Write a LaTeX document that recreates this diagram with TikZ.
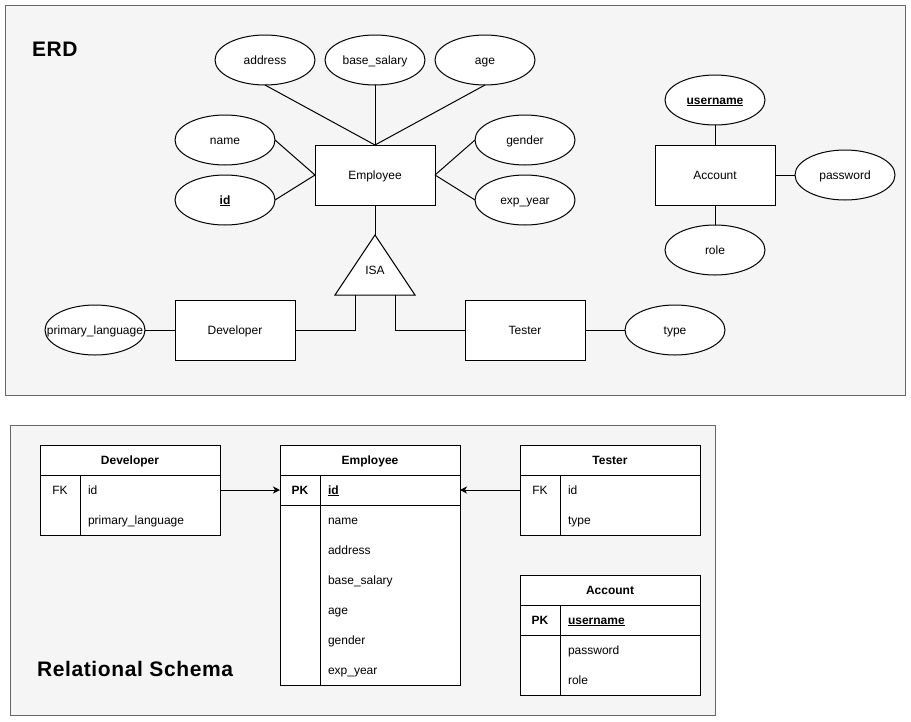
\documentclass[tikz,border=0pt]{standalone}
\usepackage{fontspec}
\setmainfont{Liberation Sans}
\usetikzlibrary{shapes.geometric,arrows.meta}
\definecolor{framefill}{HTML}{F5F5F5}
\definecolor{frameline}{HTML}{666666}
\newcommand\fixw[1]{\makebox[0pt][c]{#1}}
\begin{document}
\begin{tikzpicture}[x=1pt,y=-1pt,line width=1pt,
  every node/.style={font=\fontsize{12}{14}\selectfont, inner sep=0pt, outer sep=0pt, text height=10pt, text depth=2pt},
  ent/.style={draw, fill=white, minimum width=120pt, minimum height=60pt},
  attr/.style={draw, ellipse, fill=white, minimum width=100pt, minimum height=50pt},
  frame/.style={draw=frameline, fill=framefill},
  title/.style={font=\fontsize{21}{25}\selectfont\bfseries\addfontfeature{LetterSpace=3}, anchor=west, text height=18pt, text depth=4pt},
  thead/.style={draw, fill=white, minimum width=180pt, minimum height=30pt, font=\fontsize{12}{14}\selectfont\bfseries},
  tbody/.style={draw, fill=white, minimum width=180pt},
  trow/.style={minimum width=180pt, minimum height=30pt},
  fld/.style={anchor=west},
  fkarrow/.style={-{Stealth[length=7pt,width=7pt,inset=2pt]}}
]
\useasboundingbox (0,0) rectangle (911,721);
% ---------- ERD ----------
\draw[frame] (5,5) rectangle (905,395);
\node[title] (erdtitle) at (32,49) {ERD};

\node[ent] (emp) at (375,175) {Employee};
\node[attr] (address) at (265,60) {\fixw{address}};
\node[attr] (salary) at (375,60) {\fixw{base\_salary}};
\node[attr] (age) at (485,60) {\fixw{age}};
\node[attr] (name) at (225,140) {\fixw{name}};
\node[attr] (id) at (225,200) {\fixw{\bfseries\underline{id}}};
\node[attr] (gender) at (525,140) {\fixw{gender}};
\node[attr] (exp) at (525,200) {\fixw{exp\_year}};

\draw (address.south) -- (emp.north);
\draw (salary.south) -- (emp.north);
\draw (age.south) -- (emp.north);
\draw (name.east) -- (emp.west);
\draw (id.east) -- (emp.west);
\draw (gender.west) -- (emp.east);
\draw (exp.west) -- (emp.east);

\coordinate (isatop) at (375,235);
\coordinate (isaleft) at (355,295);
\coordinate (isaright) at (395,295);
\draw[fill=white] (375,235) -- (415,295) -- (335,295) -- cycle;
\node (isa) at (375,270) {ISA};
\draw (emp.south) -- (isatop);

\node[ent] (dev) at (235,330) {Developer};
\node[attr] (plang) at (95,330) {\fixw{primary\_language}};
\node[ent] (tester) at (525,330) {Tester};
\node[attr] (type) at (675,330) {\fixw{type}};
\draw (plang.east) -- (dev.west);
\draw (dev.east) -| (isaleft);
\draw (isaright) |- (tester.west);
\draw (tester.east) -- (type.west);

\node[ent] (acc) at (715,175) {Account};
\node[attr] (uname) at (715,100) {\fixw{\bfseries\underline{username}}};
\node[attr] (pwd) at (845,175) {\fixw{password}};
\node[attr] (role) at (715,250) {\fixw{role}};
\draw (uname.south) -- (acc.north);
\draw (acc.east) -- (pwd.west);
\draw (acc.south) -- (role.north);

% ---------- Relational schema ----------
\draw[frame] (10,425) rectangle (715,715);
\node[title] (rstitle) at (37,669) {Relational Schema};

% Developer table
\node[thead] (devh) at (130,460) {Developer};
\node[tbody, minimum height=60pt] (devb) at (130,505) {};
\draw ([xshift=40pt]devb.north west) -- ([xshift=40pt]devb.south west);
\node[trow] (devr1) at (130,490) {};
\node (devfk) at (60,490) {FK};
\node[fld] (devid) at (88,490) {id};
\node[fld] (devpl) at (88,520) {primary\_language};

% Employee table
\node[thead] (emph) at (370,460) {Employee};
\node[tbody, minimum height=30pt] (emppk) at (370,490) {};
\node[tbody, minimum height=180pt] (empb) at (370,595) {};
\draw ([xshift=40pt]emppk.north west) -- ([xshift=40pt]empb.south west);
\node[font=\fontsize{12}{14}\selectfont\bfseries] (emppkl) at (300,490) {PK};
\node[fld] (empid) at (328,490) {\bfseries\underline{id}};
\node[fld] (empname) at (328,520) {name};
\node[fld] (empaddr) at (328,550) {address};
\node[fld] (empsal) at (328,580) {base\_salary};
\node[fld] (empage) at (328,610) {age};
\node[fld] (empgen) at (328,640) {gender};
\node[fld] (empexp) at (328,670) {exp\_year};

% Tester table
\node[thead] (tesh) at (610,460) {Tester};
\node[tbody, minimum height=60pt] (tesb) at (610,505) {};
\draw ([xshift=40pt]tesb.north west) -- ([xshift=40pt]tesb.south west);
\node[trow] (tesr1) at (610,490) {};
\node (tesfk) at (540,490) {FK};
\node[fld] (tesid) at (568,490) {id};
\node[fld] (testype) at (568,520) {type};

% Account table
\node[thead] (acch) at (610,590) {Account};
\node[tbody, minimum height=30pt] (accpk) at (610,620) {};
\node[tbody, minimum height=60pt] (accb) at (610,665) {};
\draw ([xshift=40pt]accpk.north west) -- ([xshift=40pt]accb.south west);
\node[font=\fontsize{12}{14}\selectfont\bfseries] (accpkl) at (540,620) {PK};
\node[fld] (accuser) at (568,620) {\bfseries\underline{username}};
\node[fld] (accpwd) at (568,650) {password};
\node[fld] (accrole) at (568,680) {role};

% Foreign keys
\draw[fkarrow] (devr1.east) -- (emppk.west);
\draw[fkarrow] (tesr1.west) -- (emppk.east);
\end{tikzpicture}
\end{document}
